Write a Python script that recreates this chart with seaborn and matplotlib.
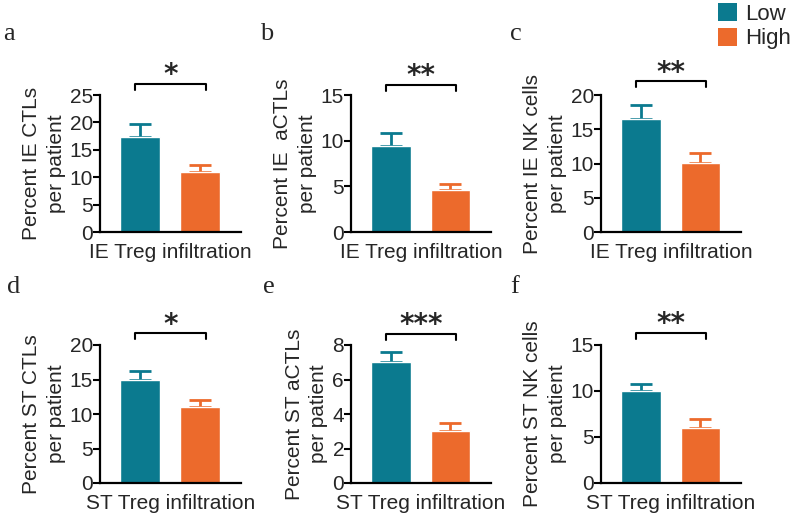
import matplotlib
matplotlib.use("Agg")
import matplotlib.pyplot as plt
import seaborn as sns
import pandas as pd
import numpy as np
from matplotlib.patches import Patch

sns.set_theme(style="ticks")
plt.rcParams['font.family'] = ['Liberation Sans', 'DejaVu Sans']

groups = ["Low", "High"]
colors = ["#0b7a8f", "#ec6a2c"]

panel_letters = ["a", "b", "c", "d", "e", "f"]
ylabels = ["Percent IE CTLs\nper patient", "Percent IE  aCTLs\nper patient",
           "Percent IE NK cells\nper patient", "Percent ST CTLs\nper patient",
           "Percent ST aCTLs\nper patient", "Percent ST NK cells\nper patient"]
xlabels = ["IE Treg infiltration"] * 3 + ["ST Treg infiltration"] * 3
means_low = [17.3, 9.4, 16.5, 15.0, 7.0, 10.0]
means_high = [11.0, 4.6, 10.1, 11.0, 3.0, 6.0]
err_low = [2.4, 1.4, 2.0, 1.2, 0.6, 0.8]
err_high = [1.2, 0.7, 1.4, 1.1, 0.45, 1.0]
ymax = [25, 15, 20, 20, 8, 15]
ytick_step = [5, 5, 5, 5, 2, 5]
bracket_y = [27.0, 16.1, 22.0, 21.7, 8.65, 16.3]
stars = ["*", "**", "**", "*", "***", "**"]

fig = plt.figure(figsize=(8.0, 5.19), dpi=100)

lefts = [100, 351, 601]
widths = [141, 140, 140]
tops = [95, 345]
bottoms = [232, 483]
letter_pos = [(3, 40), (260, 40), (510, 40), (7, 293), (263, 293), (510, 293)]

W, H = 800, 519
for i in range(6):
    r, c = divmod(i, 3)
    ax = fig.add_axes([lefts[c] / W, 1 - bottoms[r] / H, widths[c] / W, (bottoms[r] - tops[r]) / H])
    df = pd.DataFrame({"group": groups, "value": [means_low[i], means_high[i]]})
    sns.barplot(data=df, x="group", y="value", hue="group", palette=colors,
                order=groups, hue_order=groups, width=0.667, errorbar=None,
                legend=False, ax=ax, saturation=1, zorder=2)
    errs = [err_low[i], err_high[i]]
    vals = [means_low[i], means_high[i]]
    for k in range(2):
        ax.errorbar(k, vals[k], yerr=[[0], [errs[k]]], color=colors[k],
                    capsize=8, elinewidth=2, capthick=2, zorder=1)
    ax.set_xlim(-0.67, 1.68)
    ax.set_ylim(0, ymax[i])
    ax.set_yticks(np.arange(0, ymax[i] + 0.01, ytick_step[i]))
    ax.set_xticks([])
    ax.tick_params(axis='y', labelsize=15, length=5, width=1.5, pad=0, direction='out', color='black')
    for s in ["top", "right"]:
        ax.spines[s].set_visible(False)
    for s in ["left", "bottom"]:
        ax.spines[s].set_linewidth(1.6)
        ax.spines[s].set_color("black")
    ax.set_ylabel(ylabels[i], fontsize=15, labelpad=3, linespacing=1.35)
    ax.set_xlabel(xlabels[i], fontsize=15, labelpad=8)
    # significance bracket
    by = bracket_y[i]
    drop = ymax[i] * 0.045
    ax.plot([-0.08, -0.08, 1.1, 1.1], [by - drop, by, by, by - drop], color="black", lw=1.5,
            clip_on=False)
    ax.annotate(stars[i], xy=(0.51, by), xytext=(0, 0.5), textcoords="offset points",
                ha="center", va="baseline", fontsize=20, fontweight="bold",
                family="DejaVu Sans", annotation_clip=False)
    fig.text(letter_pos[i][0] / W, 1 - letter_pos[i][1] / H, panel_letters[i],
             fontsize=19, family="Liberation Serif", va="baseline", ha="left")

handles = [Patch(facecolor=colors[0], edgecolor="none", label="Low"),
           Patch(facecolor=colors[1], edgecolor="none", label="High")]
fig.legend(handles=handles, loc="upper right", bbox_to_anchor=(1.005, 1.02),
           frameon=False, fontsize=16, handlelength=0.85, handleheight=0.85,
           handletextpad=0.35, labelspacing=0.15, borderpad=0.1)

fig.savefig("out.png", dpi=100)
